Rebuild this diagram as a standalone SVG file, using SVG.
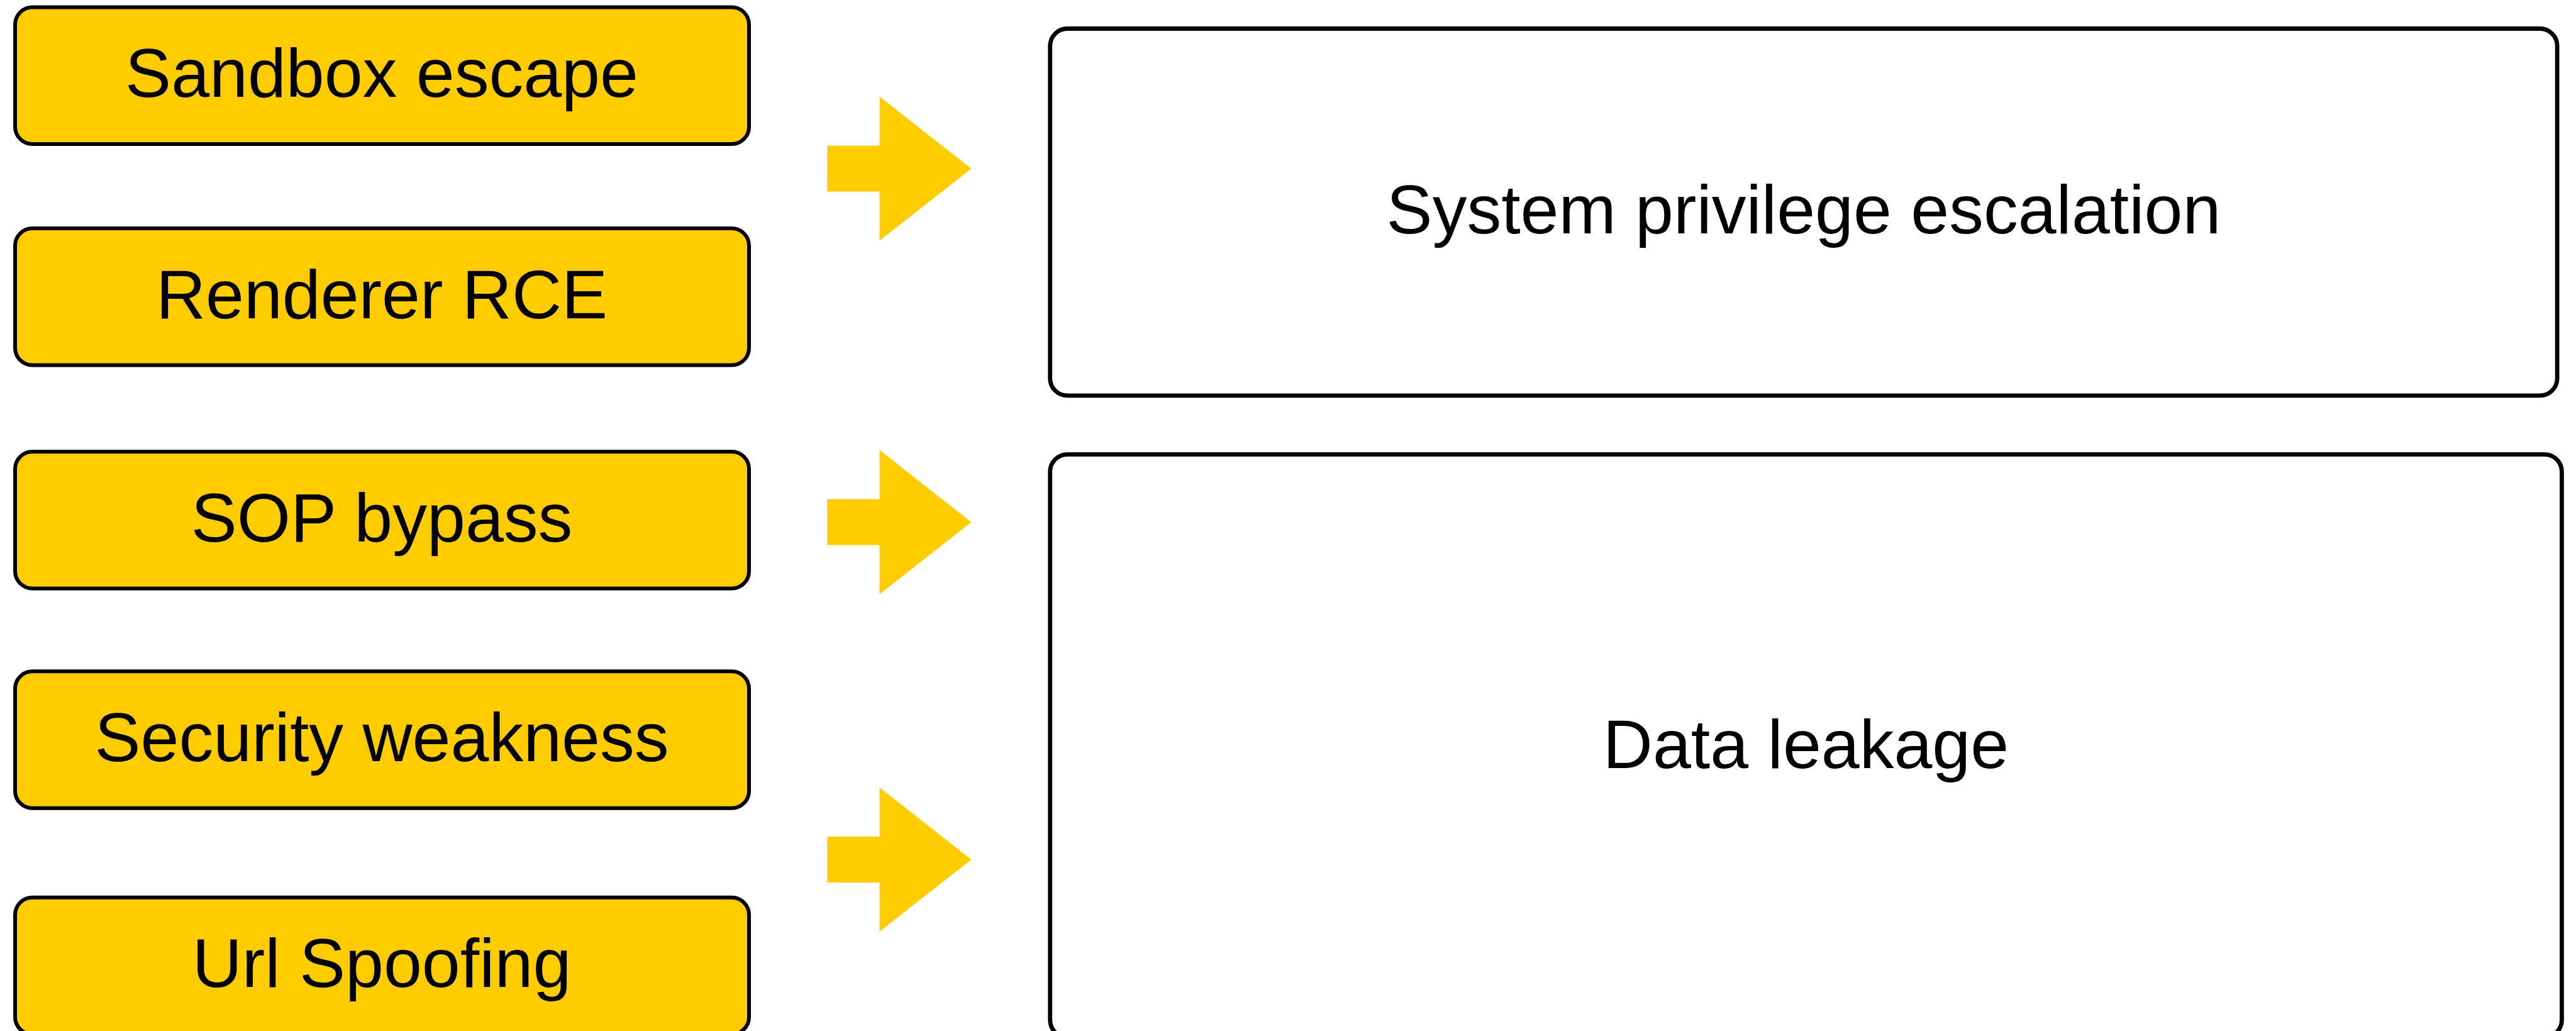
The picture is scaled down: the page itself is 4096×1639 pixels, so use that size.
<svg xmlns="http://www.w3.org/2000/svg" width="4096" height="1639" viewBox="0 0 4096 1639">
  <style>
    .cause { fill: #FFCC00; stroke: #000000; stroke-width: 6; }
    .effect { fill: #FFFFFF; stroke: #000000; stroke-width: 6.8; }
    .label { font-family: "Liberation Sans", Arial, sans-serif; font-size: 109.5px; fill: #000000; text-anchor: middle; }
    .arrow { fill: #FFCC00; stroke: none; }
  </style>
  <rect width="4096" height="1639" fill="#FFFFFF"/>

  <!-- attack categories -->
  <g id="sandbox-escape">
    <rect class="cause" x="24" y="11.5" width="1167" height="217.5" rx="27.5" ry="27.5"/>
    <text class="label" x="607" y="154">Sandbox escape</text>
  </g>
  <g id="renderer-rce">
    <rect class="cause" x="24" y="363" width="1167" height="217.5" rx="27.5" ry="27.5"/>
    <text class="label" x="607" y="505.5">Renderer RCE</text>
  </g>
  <g id="sop-bypass">
    <rect class="cause" x="24" y="718" width="1167" height="217.5" rx="27.5" ry="27.5"/>
    <text class="label" x="607" y="860.5">SOP bypass</text>
  </g>
  <g id="security-weakness">
    <rect class="cause" x="24" y="1067.3" width="1167" height="217.5" rx="27.5" ry="27.5"/>
    <text class="label" x="607" y="1209.8">Security weakness</text>
  </g>
  <g id="url-spoofing">
    <rect class="cause" x="24" y="1426.8" width="1167" height="217.5" rx="27.5" ry="27.5"/>
    <text class="label" x="607" y="1569.3">Url Spoofing</text>
  </g>

  <!-- impacts -->
  <g id="system-privilege-escalation">
    <rect class="effect" x="1669.7" y="45.5" width="2396.4" height="583.4" rx="27.5" ry="27.5"/>
    <text class="label" x="2868" y="371">System privilege escalation</text>
  </g>
  <g id="data-leakage">
    <rect class="effect" x="1669.7" y="722.4" width="2403.7" height="926.6" rx="27.5" ry="27.5"/>
    <text class="label" x="2871.5" y="1220.5">Data leakage</text>
  </g>

  <!-- block arrows -->
  <g id="connectors">
    <polygon class="arrow" points="1315.3,231.6 1398.5,231.6 1398.5,153.6 1544.4,268.1 1398.5,382.6 1398.5,304.6 1315.3,304.6"/>
    <polygon class="arrow" points="1315.3,793.6 1398.5,793.6 1398.5,715.6 1544.4,830.1 1398.5,944.6 1398.5,866.6 1315.3,866.6"/>
    <polygon class="arrow" points="1315.3,1329.9 1398.5,1329.9 1398.5,1251.9 1544.4,1366.4 1398.5,1480.9 1398.5,1402.9 1315.3,1402.9"/>
  </g>
</svg>
